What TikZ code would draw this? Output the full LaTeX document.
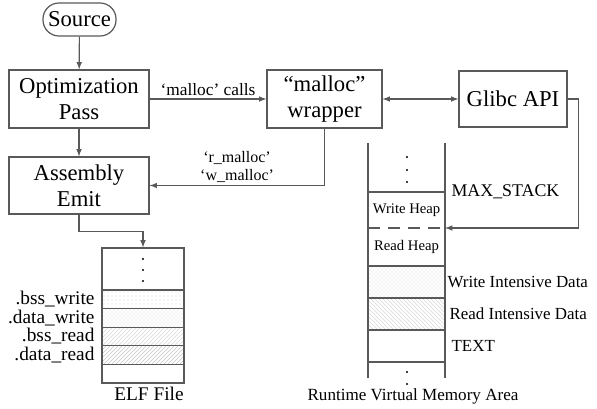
\documentclass[tikz,border=0pt]{standalone}
\usepackage{fontspec}
\setmainfont{Liberation Serif}
\usetikzlibrary{arrows,patterns}

\begin{document}
\begin{tikzpicture}[x=0.75pt,y=-0.75pt,>=latex,
	main_box/.style={rectangle,draw=black!65,line width=0.9pt,align=center,inner sep=1pt,font=\fontsize{17}{19.5}\selectfont},
	src_box/.style={main_box,rounded corners=12pt,minimum width=54.75pt,minimum height=24.75pt},
	flow/.style={draw=black!65,line width=0.9pt,->},
	wall/.style={draw=black!65,line width=0.9pt},
	elf_row/.style={rectangle,draw=black!65,line width=0.9pt,minimum width=61.5pt,minimum height=13.95pt,inner sep=0pt},
	mem_row/.style={rectangle,draw=black!65,line width=0.9pt,minimum width=57.75pt,minimum height=24pt,inner sep=0pt},
	elf_label/.style={anchor=east,inner sep=1pt,font=\fontsize{14.5}{16}\selectfont},
	mem_label/.style={anchor=west,inner sep=1pt,font=\fontsize{12.7}{14}\selectfont},
	heap_label/.style={inner sep=1pt,font=\fontsize{11}{12}\selectfont},
	small_text/.style={align=center,inner sep=2pt,font=\fontsize{12}{13}\selectfont},
	dot_node/.style={circle,fill=black,inner sep=0pt,minimum size=1.6pt}]
	\useasboundingbox (0,0) rectangle (597,408);

	% compiler side
	\node[src_box] (src) at (79.5,19.5) {Source};
	\node[main_box,minimum width=105pt,minimum height=43.5pt] (opt) at (79,99) {Optimization\\Pass};
	\node[main_box,minimum width=105pt,minimum height=42.75pt] (asm) at (79,185.5) {Assembly\\Emit};
	\node[main_box,minimum width=86.25pt,minimum height=43.5pt] (wrap) at (324.5,99) {``malloc''\\wrapper};
	\node[main_box,minimum width=81pt,minimum height=42pt] (glibc) at (513,99) {Glibc API};

	\draw[flow] (src) -- (opt);
	\draw[flow] (opt) -- (asm);
	\draw[flow] (opt) -- node[above,small_text,font=\fontsize{13}{14}\selectfont] {`malloc' calls} (wrap);
	\draw[flow,<->] (wrap) -- (glibc);
	\draw[flow] (wrap.south) |- node[pos=0.75,above,small_text] {`r\_malloc'\\`w\_malloc'} (asm.east);

	% ELF file
	\node[elf_row,minimum height=31.5pt] (elf_top) at (143,269) {};
	\node[elf_row,pattern=dots,pattern color=gray!35] (bss_w) at (143,299.3) {};
	\node[elf_row,pattern=crosshatch dots,pattern color=gray!35] (data_w) at (143,317.9) {};
	\node[elf_row,pattern=north east lines,pattern color=gray!30] (bss_r) at (143,336.5) {};
	\node[elf_row,pattern=north east lines,pattern color=gray!45] (data_r) at (143,355.1) {};
	\node[elf_row] (elf_end) at (143,373.7) {};
	\foreach \y in {259,270,281}
		\node[dot_node] (elf_dot\y) at (143,\y) {};

	\node[elf_label] (l_bss_w) at ([xshift=-4pt]bss_w.west) {.bss\_write};
	\node[elf_label] (l_data_w) at ([xshift=-4pt]data_w.west) {.data\_write};
	\node[elf_label] (l_bss_r) at ([xshift=-4pt]bss_r.west) {.bss\_read};
	\node[elf_label] (l_data_r) at ([xshift=-4pt]data_r.west) {.data\_read};
	\node[font=\fontsize{14.5}{16}\selectfont] (elf_cap) at (149,394) {ELF File};

	\draw[flow] (asm.south) -- ++(0,17) -| (elf_top.north);

	% runtime memory
	\draw[wall] (368,143) -- (368,378) (445,143) -- (445,378);
	\draw[wall] (368,192) -- (445,192);
	\draw[wall,dash pattern=on 9pt off 6pt] (368,228) -- (445,228);
	\coordinate (heap_split) at (445,228);
	\foreach \y in {157,170,182}
		\node[dot_node] (top_dot\y) at (407,\y) {};
	\node[heap_label] (wheap) at (406.5,210) {Write Heap};
	\node[heap_label] (rheap) at (406.5,247) {Read Heap};
	\node[mem_row,pattern=crosshatch dots,pattern color=gray!35] (wdata) at (406.5,282) {};
	\node[mem_row,pattern=north west lines,pattern color=gray!30] (rdata) at (406.5,314) {};
	\node[mem_row] (text_seg) at (406.5,346) {};
	\foreach \y in {372,384}
		\node[dot_node] (bot_dot\y) at (407,\y) {};

	\node[mem_label,font=\fontsize{13.4}{15}\selectfont] (l_max) at (450,192) {MAX\_STACK};
	\node[mem_label] (l_wdata) at (446,282) {Write Intensive Data};
	\node[mem_label] (l_rdata) at (448,314) {Read Intensive Data};
	\node[mem_label] (l_text) at (450,346) {TEXT};
	\node[font=\fontsize{12.8}{14}\selectfont] (mem_cap) at (413,396) {Runtime Virtual Memory Area};

	\draw[flow] (glibc.east) -- ++(11,0) |- (heap_split);
\end{tikzpicture}
\end{document}
